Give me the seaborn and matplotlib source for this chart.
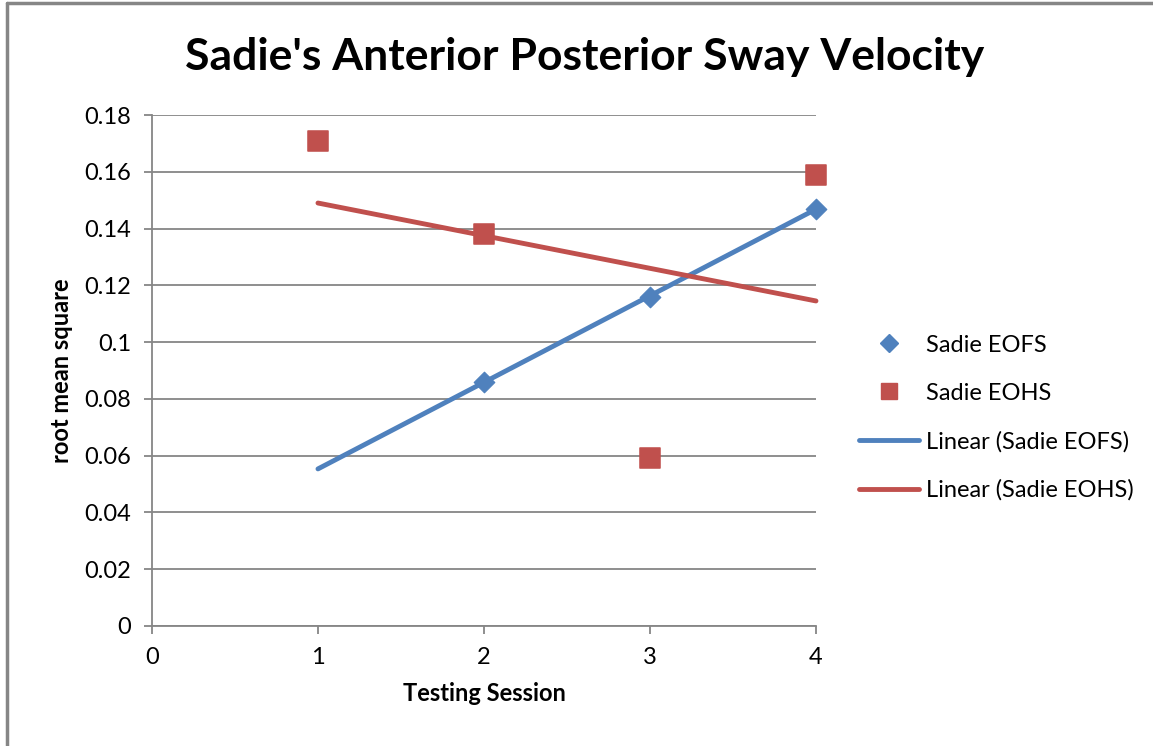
import numpy as np
import pandas as pd
import seaborn as sns
from matplotlib import pyplot as plt
from matplotlib.lines import Line2D

# testing sessions and rms values
eofs_session = [2, 3, 4]
eofs_rms = [0.086, 0.116, 0.147]
eohs_session = [1, 2, 3, 4]
eohs_rms = [0.171, 0.138, 0.059, 0.159]
trend_range = [1, 4]

blue = '#4F81BD'
red = '#C0504D'
grey = '#868686'

sns.set_style('white')
plt.rcParams['font.family'] = ['Lato', 'DejaVu Sans']
plt.rcParams['text.color'] = 'black'
plt.rcParams['axes.labelcolor'] = 'black'
plt.rcParams['xtick.color'] = 'black'
plt.rcParams['ytick.color'] = 'black'

fig = plt.figure(figsize=(11.53, 7.46), dpi=100)
ax = fig.add_axes([0.1318, 0.1609, 0.5759, 0.6849])

# linear trend lines (like Excel's trendline)
xs = np.array(trend_range, dtype=float)
p1 = np.polyfit(eofs_session, eofs_rms, 1)
p2 = np.polyfit(eohs_session, eohs_rms, 1)
trend = pd.DataFrame({
    'x': np.concatenate([xs, xs]),
    'y': np.concatenate([np.polyval(p1, xs), np.polyval(p2, xs)]),
    'series': ['Linear (Sadie EOFS)'] * 2 + ['Linear (Sadie EOHS)'] * 2,
})

df1 = pd.DataFrame({'x': eofs_session, 'y': eofs_rms})
df2 = pd.DataFrame({'x': eohs_session, 'y': eohs_rms})

sns.scatterplot(data=df1, x='x', y='y', marker='D', s=110, color=blue,
                edgecolor=blue, ax=ax, zorder=3, legend=False, clip_on=False)
sns.scatterplot(data=df2, x='x', y='y', marker='s', s=200, color=red,
                edgecolor=red, ax=ax, zorder=3, legend=False, clip_on=False)
sns.lineplot(data=trend, x='x', y='y', hue='series', palette=[blue, red],
             linewidth=3.5, ax=ax, zorder=4, legend=False)
for ln in ax.lines:
    ln.set_clip_on(False)

ax.set_xlim(0, 4)
ax.set_ylim(0, 0.18)
ax.set_xticks([0, 1, 2, 3, 4])
ax.set_yticks(np.arange(0, 0.181, 0.02))
ax.set_xticklabels(['0', '1', '2', '3', '4'])
ax.set_yticklabels(['0', '0.02', '0.04', '0.06', '0.08', '0.1', '0.12',
                    '0.14', '0.16', '0.18'])
ax.yaxis.grid(True, color=grey, linewidth=1.3)
ax.xaxis.grid(False)
for s in ['top', 'right']:
    ax.spines[s].set_visible(False)
for s in ['left', 'bottom']:
    ax.spines[s].set_color(grey)
    ax.spines[s].set_linewidth(1.3)
ax.tick_params(axis='both', which='both', direction='out', length=6,
               width=1.3, color=grey, labelsize=17, pad=9, left=True,
               bottom=True)
ax.set_xlabel('Testing Session', fontsize=17, fontweight='bold', labelpad=10)
ax.set_ylabel('root mean square', fontsize=17, fontweight='bold', labelpad=8)

fig.suptitle("Sadie's Anterior Posterior Sway Velocity", x=0.507, y=0.95,
             fontsize=32, fontweight='bold')

handles = [
    Line2D([], [], marker='D', color=blue, linestyle='none', markersize=9),
    Line2D([], [], marker='s', color=red, linestyle='none', markersize=12),
    Line2D([], [], color=blue, linewidth=3.5),
    Line2D([], [], color=red, linewidth=3.5),
]
labels = ['Sadie EOFS', 'Sadie EOHS', 'Linear (Sadie EOFS)',
          'Linear (Sadie EOHS)']
fig.legend(handles, labels, loc='center left', bbox_to_anchor=(0.727, 0.44),
           frameon=False, fontsize=17, handlelength=2.5, labelspacing=1.15,
           handletextpad=0.3)

# chart border (left and top edges visible)
fig.add_artist(Line2D([0.0065, 0.0065], [0, 0.996], color=grey, linewidth=2.5,
                      transform=fig.transFigure))
fig.add_artist(Line2D([0.0065, 1], [0.996, 0.996], color=grey, linewidth=2.5,
                      transform=fig.transFigure))

plt.savefig('out.png', dpi=100)
